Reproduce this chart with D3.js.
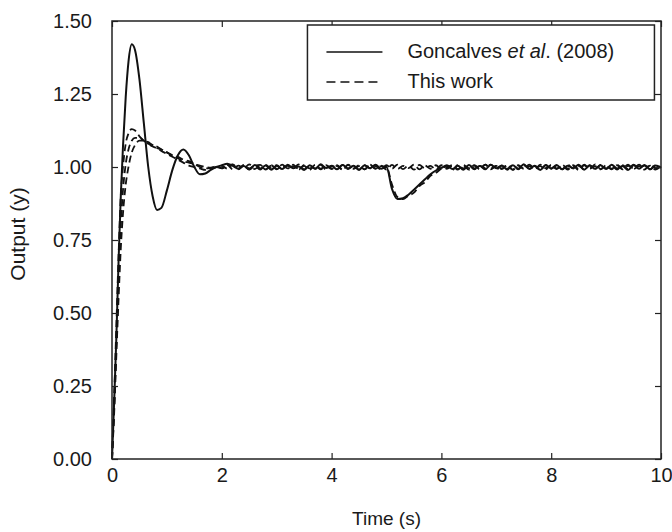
<!DOCTYPE html>
<html>
<head>
<meta charset="utf-8">
<script src="https://cdn.jsdelivr.net/npm/d3@7"></script>
<style>
  body { margin: 0; background: #fff; }
  text { font-family: "Liberation Sans", Arial, sans-serif; fill: #1a1a1a; }
</style>
</head>
<body>
<div id="chart"></div>
<script>
// Sample times (s): dense over the start-up transient, then every 0.1 s
var timeEarly = [0, 0.04, 0.08, 0.12, 0.16, 0.2, 0.25, 0.3, 0.36, 0.42, 0.5, 0.58, 0.66, 0.74, 0.82, 0.9,
                 1.0, 1.1, 1.2, 1.3, 1.4, 1.5, 1.6, 1.7, 1.8, 1.9];
var timeLate = [2.0, 2.1, 2.2, 2.3, 2.4, 2.5, 2.6, 2.7, 2.8, 2.9,
                3.0, 3.1, 3.2, 3.3, 3.4, 3.5, 3.6, 3.7, 3.8, 3.9,
                4.0, 4.1, 4.2, 4.3, 4.4, 4.5, 4.6, 4.7, 4.8, 4.9,
                5.0, 5.1, 5.2, 5.3, 5.4, 5.5, 5.6, 5.7, 5.8, 5.9,
                6.0, 6.1, 6.2, 6.3, 6.4, 6.5, 6.6, 6.7, 6.8, 6.9,
                7.0, 7.1, 7.2, 7.3, 7.4, 7.5, 7.6, 7.7, 7.8, 7.9,
                8.0, 8.1, 8.2, 8.3, 8.4, 8.5, 8.6, 8.7, 8.8, 8.9,
                9.0, 9.1, 9.2, 9.3, 9.4, 9.5, 9.6, 9.7, 9.8, 9.9,
                10.0];

// Goncalves et al. (2008) - solid
var goncalvesEarly = [0, 0.2, 0.42, 0.68, 0.9, 1.07, 1.24, 1.36, 1.42, 1.40, 1.30, 1.15, 1.0, 0.9, 0.853, 0.86,
                      0.92, 0.99, 1.04, 1.06, 1.04, 1.0, 0.975, 0.978, 0.99, 1.0];
var goncalvesLate = [1.006, 1.011, 1.004, 0.994, 1.003, 0.992, 1.007, 0.995, 1.005, 0.991,
                     1.004, 0.993, 1.008, 0.996, 1.002, 0.99, 1.006, 0.994, 1.009, 0.997,
                     1.003, 0.992, 1.007, 0.995, 1.004, 0.991, 1.006, 0.996, 1.008, 0.994,
                     1.0, 0.925, 0.89, 0.893, 0.905, 0.922, 0.94, 0.958, 0.975, 0.988,
                     0.997, 1.006, 0.993, 1.004, 0.991, 1.007, 0.995, 1.003, 0.992, 1.008,
                     0.996, 1.005, 0.991, 1.006, 0.994, 1.009, 0.993, 1.004, 0.99, 1.006,
                     0.995, 1.007, 0.992, 1.004, 0.996, 1.008, 0.991, 1.005, 0.994, 1.006,
                     0.993, 1.008, 0.995, 1.003, 0.99, 1.006, 0.994, 1.007, 0.992, 1.005,
                     0.998];

// This work - dashed runs
var workAEarly = [0, 0.22, 0.46, 0.7, 0.9, 1.0, 1.08, 1.115, 1.13, 1.125, 1.105, 1.09, 1.085, 1.075, 1.07, 1.06,
                  1.05, 1.04, 1.03, 1.02, 1.015, 1.01, 1.0, 0.995, 0.997, 1.0];
var workALate = [0.995, 1.007, 0.992, 1.005, 0.996, 1.009, 0.993, 1.004, 0.991, 1.006,
                 0.994, 1.008, 0.996, 1.003, 0.991, 1.007, 0.995, 1.005, 0.992, 1.006,
                 0.996, 1.004, 0.99, 1.007, 0.994, 1.006, 0.992, 1.008, 0.995, 1.003,
                 1.0, 0.94, 0.897, 0.89, 0.902, 0.912, 0.935, 0.948, 0.97, 0.98,
                 0.994, 0.999, 1.007, 0.993, 1.005, 0.991, 1.006, 0.996, 1.008, 0.992,
                 1.004, 0.995, 1.007, 0.991, 1.006, 0.994, 1.003, 0.992, 1.008, 0.996,
                 1.005, 0.993, 1.007, 0.995, 1.004, 0.99, 1.006, 0.994, 1.009, 0.993,
                 1.004, 0.992, 1.006, 0.995, 1.008, 0.993, 1.003, 0.991, 1.007, 0.996,
                 1.002];
var workBEarly = [0, 0.18, 0.4, 0.62, 0.8, 0.92, 1.01, 1.06, 1.09, 1.1, 1.1, 1.09, 1.08, 1.07, 1.065, 1.055,
                  1.045, 1.035, 1.025, 1.015, 1.005, 1.0, 0.995, 0.99, 0.995, 1.0];
var workBLate = [1.004, 0.994, 1.008, 0.992, 1.006, 0.995, 1.003, 0.991, 1.007, 0.996,
                 1.006, 0.993, 1.004, 0.995, 1.009, 0.992, 1.005, 0.994, 1.007, 0.991,
                 1.005, 0.996, 1.007, 0.993, 1.004, 0.99, 1.006, 0.995, 1.003, 0.992,
                 1.006, 0.994, 1.008, 0.993, 1.005, 0.991, 1.007, 0.995, 1.004, 0.992,
                 1.006, 0.994, 1.003, 0.991, 1.007, 0.996, 1.005, 0.992, 1.008, 0.995,
                 1.004, 0.993, 1.006, 0.99, 1.005, 0.994, 1.008, 0.996, 1.003, 0.992,
                 1.007, 0.995, 1.004, 0.991, 1.006, 0.993, 1.008, 0.995, 1.003, 0.992,
                 1.006, 0.994, 1.007, 0.992, 1.004, 0.996, 1.008, 0.993, 1.005, 0.991,
                 1.003];
var workCEarly = [0, 0.16, 0.36, 0.55, 0.72, 0.84, 0.94, 1.0, 1.05, 1.075, 1.09, 1.09, 1.08, 1.075, 1.065, 1.06,
                  1.05, 1.04, 1.035, 1.025, 1.02, 1.01, 1.005, 1.0, 0.998, 1.002];
var workCLate = [0.996, 1.003, 1.009, 0.994, 1.006, 0.991, 1.004, 1.007, 0.993, 1.005,
                 0.992, 1.006, 0.995, 1.008, 0.993, 1.004, 0.99, 1.007, 0.994, 1.005,
                 0.993, 1.006, 0.991, 1.008, 0.995, 1.003, 0.992, 1.007, 0.994, 1.005,
                 0.991, 1.007, 0.993, 1.004, 0.996, 1.008, 0.992, 1.005, 0.994, 1.006,
                 0.993, 1.004, 0.99, 1.007, 0.995, 1.006, 0.992, 1.004, 0.996, 1.008,
                 0.991, 1.005, 0.994, 1.007, 0.992, 1.006, 0.995, 1.003, 0.99, 1.007,
                 0.994, 1.005, 0.992, 1.008, 0.995, 1.004, 0.991, 1.006, 0.993, 1.007,
                 0.995, 1.004, 0.991, 1.006, 0.993, 1.008, 0.996, 1.005, 0.992, 1.006,
                 0.997];

// Axis ticks
var xTicks = [0, 2, 4, 6, 8, 10];
var yTicks = [0, 0.25, 0.5, 0.75, 1.0, 1.25, 1.5];

// Chart dimensions
var margin = {top: 21, right: 11, bottom: 73, left: 112};
var width = 672 - margin.left - margin.right;
var height = 532 - margin.top - margin.bottom;

var svg = d3.select("#chart").append("svg")
    .attr("width", 672)
    .attr("height", 532)
    .append("g")
    .attr("transform", "translate(" + margin.left + "," + margin.top + ")");

var x = d3.scaleLinear().domain([0, 10]).range([0, width]);
var y = d3.scaleLinear().domain([0, 1.5]).range([height, 0]);

// join early + late samples into [t, y] pairs
function series(early, late) {
    var times = timeEarly.concat(timeLate);
    var vals = early.concat(late);
    return times.map(function(t, i) { return [t, vals[i]]; });
}

var runs = [
    {name: "goncalves", dashed: false, width: 2, data: series(goncalvesEarly, goncalvesLate)},
    {name: "workA", dashed: true, width: 1.8, data: series(workAEarly, workALate)},
    {name: "workB", dashed: true, width: 1.8, data: series(workBEarly, workBLate)},
    {name: "workC", dashed: true, width: 1.8, data: series(workCEarly, workCLate)}
];

var line = d3.line()
    .curve(d3.curveMonotoneX)
    .x(function(d) { return x(d[0]); })
    .y(function(d) { return y(d[1]); });

svg.append("g")
    .attr("class", "lines")
    .selectAll("path")
    .data(runs)
    .enter()
    .append("path")
    .attr("d", function(d) { return line(d.data); })
    .attr("fill", "none")
    .attr("stroke", "#111")
    .attr("stroke-width", function(d) { return d.width; })
    .attr("stroke-linejoin", "round")
    .attr("stroke-dasharray", function(d) { return d.dashed ? "7,4" : null; });

// Axes with inward ticks on all four sides
function styleAxis(g) {
    g.select(".domain").remove();
    g.selectAll(".tick line").attr("stroke", "#222").attr("stroke-width", 1.2);
    g.selectAll(".tick text").style("font-size", "20px").attr("fill", "#1a1a1a");
}

svg.append("g")
    .attr("transform", "translate(0," + height + ")")
    .call(d3.axisBottom(x).tickValues(xTicks).tickSizeInner(-6).tickSizeOuter(0).tickPadding(9)
        .tickFormat(d3.format("d")))
    .call(styleAxis);

svg.append("g")
    .call(d3.axisLeft(y).tickValues(yTicks).tickSizeInner(-6).tickSizeOuter(0).tickPadding(20)
        .tickFormat(d3.format(".2f")))
    .call(styleAxis);

svg.append("g")
    .call(d3.axisTop(x).tickValues(xTicks).tickSizeInner(-6).tickSizeOuter(0).tickFormat(""))
    .call(styleAxis);

svg.append("g")
    .attr("transform", "translate(" + width + ",0)")
    .call(d3.axisRight(y).tickValues(yTicks).tickSizeInner(-6).tickSizeOuter(0).tickFormat(""))
    .call(styleAxis);

// Frame
svg.append("rect")
    .attr("width", width)
    .attr("height", height)
    .attr("fill", "none")
    .attr("stroke", "#222")
    .attr("stroke-width", 1.5);

// Axis titles
svg.append("text")
    .attr("x", width / 2)
    .attr("y", height + 66)
    .attr("text-anchor", "middle")
    .style("font-size", "19px")
    .text("Time (s)");

svg.append("text")
    .attr("transform", "translate(" + (-87) + "," + (height / 2 - 6) + ") rotate(-90)")
    .attr("text-anchor", "middle")
    .style("font-size", "21px")
    .text("Output (y)");

// Legend
var legend = svg.append("g")
    .attr("transform", "translate(" + (x(3.56)) + ",4)");

legend.append("rect")
    .attr("width", 347)
    .attr("height", 75)
    .attr("fill", "#fff")
    .attr("stroke", "#222")
    .attr("stroke-width", 1.5);

legend.append("line")
    .attr("x1", 19).attr("x2", 75)
    .attr("y1", 27).attr("y2", 27)
    .attr("stroke", "#111")
    .attr("stroke-width", 1.5);

legend.append("line")
    .attr("x1", 19).attr("x2", 75)
    .attr("y1", 57).attr("y2", 57)
    .attr("stroke", "#111")
    .attr("stroke-width", 1.5)
    .attr("stroke-dasharray", "9,5");

var label1 = legend.append("text")
    .attr("x", 100)
    .attr("y", 33)
    .style("font-size", "20px");
label1.append("tspan").text("Goncalves ");
label1.append("tspan").style("font-style", "italic").text("et al");
label1.append("tspan").text(". (2008)");

legend.append("text")
    .attr("x", 100)
    .attr("y", 63)
    .style("font-size", "20px")
    .text("This work");
</script>
</body>
</html>
